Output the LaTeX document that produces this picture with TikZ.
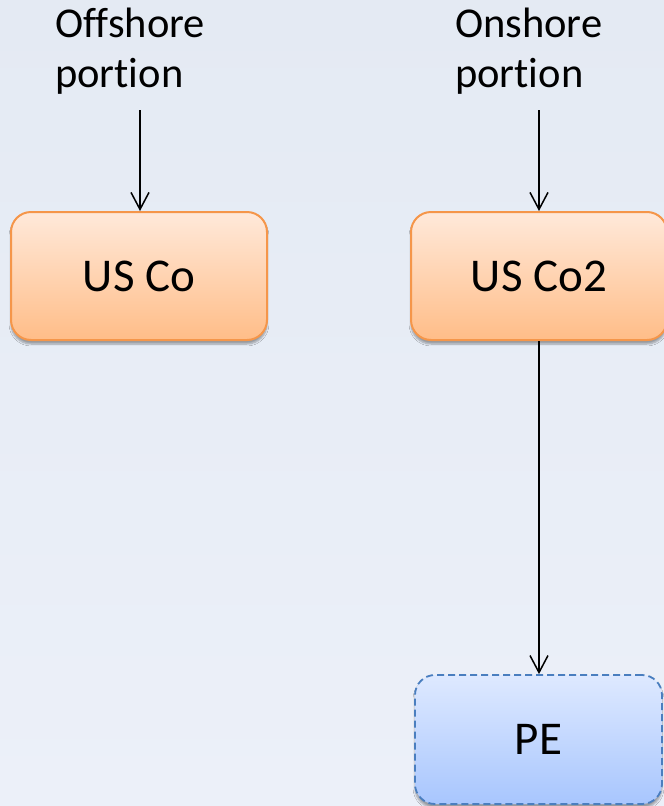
\documentclass[tikz,border=0pt]{standalone}
\usepackage{fontspec}
\setmainfont{Carlito}[RawFeature={-liga;-clig;-dlig}]
\usetikzlibrary{arrows.meta,shadows.blur}
\definecolor{bgtop}{HTML}{E4EAF3}
\definecolor{bgbot}{HTML}{ECF0F9}
\definecolor{orgtop}{HTML}{FFE9DA}
\definecolor{orgbot}{HTML}{FFBD88}
\definecolor{orgline}{HTML}{F5964A}
\definecolor{bluetop}{HTML}{DEE9FF}
\definecolor{bluebot}{HTML}{A8C6FE}
\definecolor{blueline}{HTML}{4A7EBF}
\tikzset{
  labeltext/.style={align=left, inner sep=0pt, font=\fontsize{42.5}{50}\selectfont, anchor=base west},
  orgbox/.style={rounded corners=20pt, draw=orgline, line width=2pt, top color=orgtop, bottom color=orgbot,
     blur shadow={shadow xshift=0pt, shadow yshift=-4pt, shadow blur steps=6, shadow opacity=35},
     minimum width=256pt, minimum height=128pt, font=\fontsize{47}{50}\selectfont, inner sep=0pt},
  pebox/.style={rounded corners=20pt, draw=blueline, dashed, dash pattern=on 7pt off 4pt, line width=1.8pt, top color=bluetop, bottom color=bluebot,
     blur shadow={shadow xshift=0pt, shadow yshift=-4pt, shadow blur steps=6, shadow opacity=35},
     minimum width=247pt, minimum height=129pt, font=\fontsize{47}{50}\selectfont, inner sep=0pt},
  conn/.style={line width=1.5pt, -{Straight Barb[length=17pt,width=18pt,line width=1.5pt]}}
}
\begin{document}
\begin{tikzpicture}[x=1pt,y=-1pt]
\useasboundingbox (0,0) rectangle (664,806);
\fill[top color=bgtop, bottom color=bgbot] (0,0) rectangle (664,806);
\node[labeltext] (offtxt) at (55,87) {Offshore\\portion};
\node[labeltext] (ontxt) at (455,87) {Onshore\\portion};
\coordinate (offstart) at (140,110);
\coordinate (onstart) at (539,110);
\node[orgbox] (usco) at (139,276) {US Co};
\node[orgbox] (usco2) at (539,276) {US Co2};
\node[pebox] (pe) at (538.5,739.5) {PE};
\draw[conn] (offstart) -- (offstart |- usco.north);
\draw[conn] (onstart) -- (onstart |- usco2.north);
\draw[conn] (usco2.south -| onstart) -- (onstart |- pe.north);
\end{tikzpicture}
\end{document}
